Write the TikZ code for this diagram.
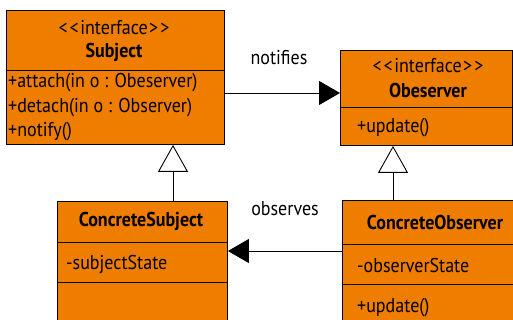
\documentclass[tikz,border=0pt]{standalone}
\usepackage{fontspec}
\setmainfont{PT Sans}[FakeStretch=0.9]
\usetikzlibrary{arrows.meta}
\definecolor{umlorange}{RGB}{238,125,0}
\newcommand{\stereo}[1]{<\kern2pt<\kern1.5pt#1\kern1.5pt>\kern2pt>}
\tikzset{
  umlbox/.style={draw=black, line width=0.9pt, fill=umlorange, rectangle, anchor=north west, inner sep=0pt},
  divider/.style={draw=black, line width=0.9pt},
  ttl/.style={anchor=base, inner sep=0pt, font=\fontsize{20}{20}\selectfont},
  ttlb/.style={anchor=base, inner sep=0pt, font=\fontsize{20}{20}\selectfont\bfseries},
  mem/.style={anchor=base west, inner sep=0pt, font=\fontsize{20}{20}\selectfont},
  conn/.style={draw=black, line width=0.9pt},
  assoc/.style={conn, -{Triangle[length=21pt,width=24pt]}},
  gen/.style={conn, -{Triangle[open,length=27pt,width=30pt,fill=white]}},
}
\begin{document}
\begin{tikzpicture}[x=1pt,y=-1pt]
\useasboundingbox (0,0) rectangle (513,320);
\clip (0,0) rectangle (513,320);
% boxes
\node[umlbox, minimum width=218pt, minimum height=134pt] (subj) at (6,10) {};
\node[umlbox, minimum width=172pt, minimum height=95pt] (obs) at (340,50) {};
\node[umlbox, minimum width=170pt, minimum height=140pt] (csub) at (57,201) {};
\node[umlbox, minimum width=190pt, minimum height=140pt] (cobs) at (342,200) {};
% dividers
\draw[divider] (subj.west |- 0,70) -- (subj.east |- 0,70);
\draw[divider] (obs.west |- 0,107) -- (obs.east |- 0,107);
\draw[divider] (csub.west |- 0,242) -- (csub.east |- 0,242);
\draw[divider] (csub.west |- 0,282) -- (csub.east |- 0,282);
\draw[divider] (cobs.west |- 0,244) -- (cobs.east |- 0,244);
\draw[divider] (cobs.west |- 0,284) -- (cobs.east |- 0,284);
% texts
\node[ttl] (t1) at (114,35) {\stereo{interface}};
\node[ttlb] (t2) at (114,58) {Subject};
\node[mem] (m1) at (8,88) {+attach(in o : Obeserver)};
\node[mem] (m2) at (8,113) {+detach(in o : Observer)};
\node[mem] (m3) at (8,137) {+notify()};
\node[ttl] (t3) at (428,73) {\stereo{interface}};
\node[ttlb] (t4) at (428,98) {Obeserver};
\node[mem] (m4) at (357,133) {+update()};
\node[ttlb] (t5) at (141,226) {ConcreteSubject};
\node[mem] (m5) at (66,269) {-subjectState};
\node[ttlb] (t6) at (435,229) {ConcreteObserver};
\node[mem] (m6) at (357,272) {-observerState};
\node[mem] (m7) at (357,312) {+update()};
\node[ttl] (l1) at (279,65) {notifies};
\node[ttl] (l2) at (285,215) {observes};
% connectors
\coordinate (ny) at (0,93);
\coordinate (oy) at (0,251);
\coordinate (gx1) at (173,0);
\coordinate (gx2) at (393,0);
\draw[assoc] (subj.east |- ny) -- (obs.west |- ny);
\draw[assoc] (cobs.west |- oy) -- (csub.east |- oy);
\draw[gen] (csub.north -| gx1) -- (subj.south -| gx1);
\draw[gen] (cobs.north -| gx2) -- (obs.south -| gx2);
\end{tikzpicture}
\end{document}
